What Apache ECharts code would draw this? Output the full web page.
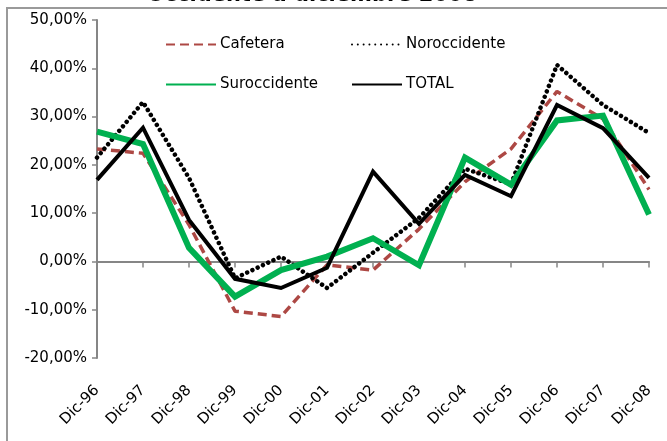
<!DOCTYPE html>
<html>
<head>
<meta charset="utf-8">
<script src="https://cdn.jsdelivr.net/npm/echarts@6/dist/echarts.min.js"></script>
<style>
  html, body { margin: 0; padding: 0; background: #fff; }
  #chart { width: 667px; height: 441px; }
</style>
</head>
<body>
<div id="chart"></div>
<script>
// Annual growth by region, December of each year (percent)
const categories = ['Dic-96', 'Dic-97', 'Dic-98', 'Dic-99', 'Dic-00', 'Dic-01', 'Dic-02',
                    'Dic-03', 'Dic-04', 'Dic-05', 'Dic-06', 'Dic-07', 'Dic-08'];
const cafetera     = [23.3, 22.4, 7.6, -10.3, -11.4, -0.7, -1.8, 6.7, 16.5, 23.3, 35.2, 29.5, 14.9];
const noroccidente = [21.5, 33.0, 17.3, -3.5, 1.0, -5.5, 1.8, 9.0, 19.2, 16.0, 40.7, 32.4, 26.6];
const suroccidente = [26.9, 24.3, 2.8, -7.3, -1.8, 1.0, 4.8, -0.8, 21.5, 15.9, 29.2, 30.2, 9.7];
const total        = [16.9, 27.7, 8.6, -3.6, -5.5, -1.3, 18.6, 7.8, 17.9, 13.5, 32.4, 27.6, 17.3];
const yTicks = { min: -20, max: 50, step: 10 };
const titleText = 'Occidente a diciembre 2008';

const FONT = 'DejaVu Sans';
const AXIS_GREY = '#868686';

const pct = v => v.toFixed(2).replace('.', ',') + '%';

function legendAt(name, left, top) {
  return {
    data: [name], left: left, top: top, orient: 'horizontal', padding: 0,
    itemWidth: 50, itemHeight: 14, itemGap: 4,
    itemStyle: { opacity: 0 },
    textStyle: { fontFamily: FONT, fontSize: 15, color: '#000', padding: [0, 0, 0, -1] },
    selectedMode: false
  };
}

const chart = echarts.init(document.getElementById('chart'), null, { renderer: 'canvas' });
chart.setOption({
  animation: false,
  backgroundColor: '#fff',
  graphic: [
    { type: 'rect', silent: true, z: -1,
      shape: { x: 7, y: 8, width: 720, height: 500 },
      style: { fill: null, stroke: '#9a9a9a', lineWidth: 2 } },
    { type: 'text', silent: true, z: 10,
      x: 312, y: 6,
      style: { text: titleText, fontFamily: FONT, fontWeight: 'bold', fontSize: 21,
               fill: '#000', align: 'center', verticalAlign: 'bottom' } }
  ],
  legend: [
    legendAt('Cafetera', 165, 37),
    legendAt('Noroccidente', 351, 37),
    legendAt('Suroccidente', 165, 77),
    legendAt('TOTAL', 351, 77)
  ],
  grid: { left: 97, right: 18, top: 20, bottom: 83, containLabel: false },
  xAxis: [
    { type: 'category', data: categories, boundaryGap: false, position: 'bottom',
      axisLine: { show: false, onZero: false }, axisTick: { show: false },
      axisLabel: { rotate: 45, margin: 30, fontFamily: FONT, fontSize: 15, color: '#000', interval: 0 },
      splitLine: { show: false } },
    { type: 'category', data: categories, boundaryGap: false, position: 'bottom',
      axisLine: { show: true, onZero: true, lineStyle: { color: AXIS_GREY, width: 2 } },
      axisTick: { show: true, inside: false, length: 6, alignWithLabel: true, lineStyle: { color: AXIS_GREY, width: 1.5 } },
      axisLabel: { show: false }, splitLine: { show: false } }
  ],
  yAxis: {
    type: 'value', min: yTicks.min, max: yTicks.max, interval: yTicks.step,
    axisLine: { show: true, lineStyle: { color: AXIS_GREY, width: 2 } },
    axisTick: { show: true, length: 5, lineStyle: { color: AXIS_GREY, width: 1.5 } },
    axisLabel: { formatter: pct, margin: 10, fontFamily: FONT, fontSize: 15, color: '#000' },
    splitLine: { show: false }
  },
  series: [
    { name: 'Cafetera', type: 'line', data: cafetera, showSymbol: false, symbol: 'none',
      color: '#ad4844', z: 2,
      lineStyle: { color: '#ad4844', width: 3.5, type: [9, 5] } },
    { name: 'Noroccidente', type: 'line', data: noroccidente, showSymbol: false, symbol: 'none',
      color: '#000', z: 3,
      lineStyle: { color: '#000', width: 4.5, type: [0.01, 5.8], cap: 'round' } },
    { name: 'Suroccidente', type: 'line', data: suroccidente, showSymbol: false, symbol: 'none',
      color: '#00b050', z: 4,
      lineStyle: { color: '#00b050', width: 6, join: 'miter' } },
    { name: 'TOTAL', type: 'line', data: total, showSymbol: false, symbol: 'none',
      color: '#000', z: 5,
      lineStyle: { color: '#000', width: 4, join: 'miter' } }
  ]
});
</script>
</body>
</html>
